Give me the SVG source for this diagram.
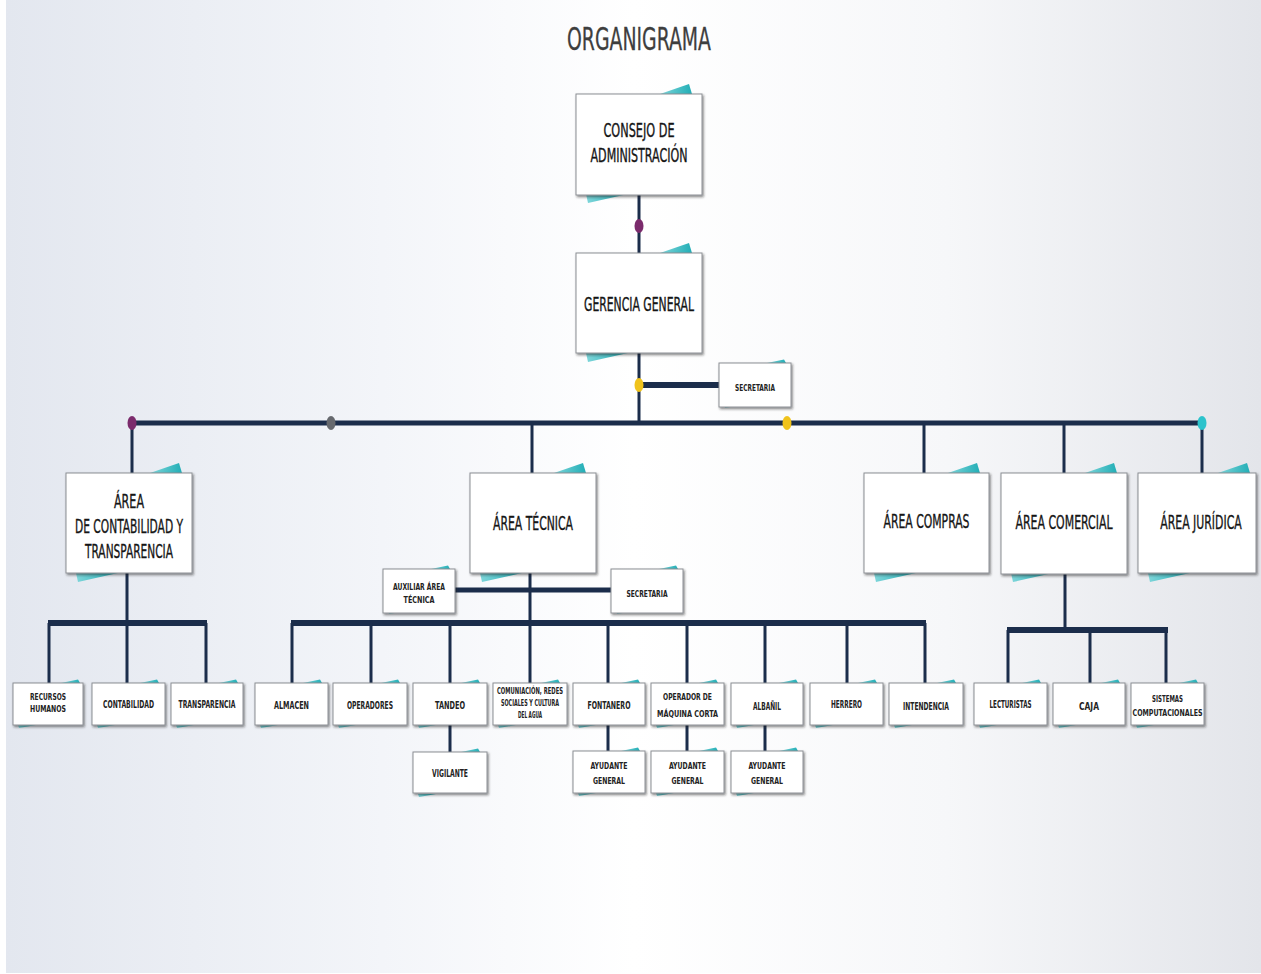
<svg xmlns="http://www.w3.org/2000/svg" xmlns:xlink="http://www.w3.org/1999/xlink" width="1261" height="974" viewBox="0 0 1261 974">
<defs>
<linearGradient id="bg" x1="0" y1="0" x2="1" y2="0">
<stop offset="0" stop-color="#e3e7ef"/>
<stop offset="0.3" stop-color="#f3f5f9"/>
<stop offset="0.5" stop-color="#ffffff"/>
<stop offset="0.75" stop-color="#f6f7f9"/>
<stop offset="1" stop-color="#e3e5ea"/>
</linearGradient>
<linearGradient id="teal" x1="0" y1="0" x2="1" y2="0">
<stop offset="0" stop-color="#7fd6da"/>
<stop offset="1" stop-color="#22aeb6"/>
</linearGradient>
<filter id="sh" x="-10%" y="-10%" width="125%" height="130%">
<feDropShadow dx="1.2" dy="1.6" stdDeviation="0.9" flood-color="#222" flood-opacity="0.55"/>
</filter>
<g id="decoB">
<polygon points="84,0 113,-10 116,0" fill="url(#teal)"/>
<polygon points="10,100 12,109 52,100" fill="url(#teal)"/>
</g>
<g id="decoS">
<polygon points="48,0 65,-3.5 67,0" fill="url(#teal)"/>
<polygon points="5,42 6,45 23,42" fill="url(#teal)"/>
</g>
<style>
.box{fill:#ffffff;stroke:#8c8f94;stroke-width:1;filter:url(#sh)}
.big{font-family:"DejaVu Sans Condensed","DejaVu Sans","Liberation Sans",sans-serif;font-stretch:condensed;font-size:19px;fill:#151515;stroke:#151515;stroke-width:0.35;text-anchor:middle}
.sm{font-family:"DejaVu Sans Condensed","DejaVu Sans","Liberation Sans",sans-serif;font-stretch:condensed;font-weight:bold;font-size:10px;fill:#222;text-anchor:middle}
.xs{font-family:"DejaVu Sans Condensed","DejaVu Sans","Liberation Sans",sans-serif;font-stretch:condensed;font-weight:bold;font-size:8.5px;fill:#222;text-anchor:middle}
.title{font-family:"DejaVu Sans Condensed","DejaVu Sans","Liberation Sans",sans-serif;font-stretch:condensed;font-size:32px;fill:#3e3e3e;stroke:#3e3e3e;stroke-width:0.3;text-anchor:middle}
.c{stroke:#1b2d4b;fill:none}
.th{stroke-width:3}
.tk{stroke-width:6}
.mn{stroke-width:5}
</style>
</defs>
<rect x="0" y="0" width="1261" height="974" fill="#ffffff"/>
<rect x="6" y="0" width="1255" height="973" fill="url(#bg)"/>
<text class="title" x="639" y="50" textLength="144" lengthAdjust="spacingAndGlyphs">ORGANIGRAMA</text>

<g id="connectors">
<line class="c th" x1="639" y1="195" x2="639" y2="253"/>
<line class="c th" x1="639" y1="353" x2="639" y2="423"/>
<line class="c tk" x1="639" y1="385" x2="719" y2="385"/>
<line class="c mn" x1="132" y1="423" x2="1202" y2="423"/>
<line class="c th" x1="132" y1="423" x2="132" y2="473"/>
<line class="c th" x1="532" y1="423" x2="532" y2="473"/>
<line class="c th" x1="924" y1="423" x2="924" y2="473"/>
<line class="c th" x1="1064" y1="423" x2="1064" y2="473"/>
<line class="c th" x1="1202" y1="423" x2="1202" y2="473"/>
<line class="c th" x1="127" y1="573" x2="127" y2="623"/>
<line class="c tk" x1="48" y1="623" x2="207" y2="623"/>
<line class="c th" x1="49" y1="623" x2="49" y2="683"/>
<line class="c th" x1="127" y1="623" x2="127" y2="683"/>
<line class="c th" x1="206" y1="623" x2="206" y2="683"/>
<line class="c th" x1="530" y1="573" x2="530" y2="683"/>
<line class="c mn" x1="455" y1="590" x2="611" y2="590"/>
<line class="c tk" x1="291" y1="623" x2="926" y2="623"/>
<line class="c th" x1="292" y1="623" x2="292" y2="683"/>
<line class="c th" x1="371" y1="623" x2="371" y2="683"/>
<line class="c th" x1="450" y1="623" x2="450" y2="683"/>
<line class="c th" x1="608" y1="623" x2="608" y2="683"/>
<line class="c th" x1="687" y1="623" x2="687" y2="683"/>
<line class="c th" x1="765" y1="623" x2="765" y2="683"/>
<line class="c th" x1="847" y1="623" x2="847" y2="683"/>
<line class="c th" x1="925" y1="623" x2="925" y2="683"/>
<line class="c th" x1="450" y1="725" x2="450" y2="752"/>
<line class="c th" x1="608" y1="725" x2="608" y2="751"/>
<line class="c th" x1="687" y1="725" x2="687" y2="751"/>
<line class="c th" x1="765" y1="725" x2="765" y2="751"/>
<line class="c th" x1="1065" y1="574" x2="1065" y2="630"/>
<line class="c tk" x1="1007" y1="630" x2="1168" y2="630"/>
<line class="c th" x1="1008" y1="630" x2="1008" y2="683"/>
<line class="c th" x1="1090" y1="630" x2="1090" y2="683"/>
<line class="c th" x1="1166" y1="630" x2="1166" y2="683"/>
<ellipse cx="639" cy="226" rx="4.5" ry="7" fill="#7b2b6c"/>
<ellipse cx="639" cy="385" rx="4.5" ry="7" fill="#f0c31c"/>
<ellipse cx="132" cy="423" rx="4.5" ry="7" fill="#7b2b6c"/>
<ellipse cx="331" cy="423" rx="4.5" ry="7" fill="#66696e"/>
<ellipse cx="787" cy="423" rx="4.5" ry="7" fill="#f0c31c"/>
<ellipse cx="1202" cy="423" rx="4.5" ry="7" fill="#2cc3cc"/>
</g>

<g id="consejo" transform="translate(576,94)"><use href="#decoB"/><rect class="box" width="126" height="101"/>
<text class="big" x="63" y="43" textLength="71" lengthAdjust="spacingAndGlyphs">CONSEJO DE</text>
<text class="big" x="63" y="68" textLength="97" lengthAdjust="spacingAndGlyphs">ADMINISTRACIÓN</text></g>

<g id="gerencia" transform="translate(576,253)"><use href="#decoB"/><rect class="box" width="126" height="100"/>
<text class="big" x="63" y="58" textLength="110" lengthAdjust="spacingAndGlyphs">GERENCIA GENERAL</text></g>

<g id="secretaria-gerencia" transform="translate(719,363)"><use href="#decoS"/><rect class="box" width="72" height="44"/>
<text class="xs" x="36" y="28" textLength="40" lengthAdjust="spacingAndGlyphs">SECRETARIA</text></g>

<g id="area-contabilidad" transform="translate(66,473)"><use href="#decoB"/><rect class="box" width="126" height="100"/>
<text class="big" x="63" y="35" textLength="30" lengthAdjust="spacingAndGlyphs">ÁREA</text>
<text class="big" x="63" y="60" textLength="108" lengthAdjust="spacingAndGlyphs">DE CONTABILIDAD Y</text>
<text class="big" x="63" y="85" textLength="88" lengthAdjust="spacingAndGlyphs">TRANSPARENCIA</text></g>

<g id="area-tecnica" transform="translate(470,473)"><use href="#decoB"/><rect class="box" width="126" height="100"/>
<text class="big" x="63" y="57" textLength="80" lengthAdjust="spacingAndGlyphs">ÁREA TÉCNICA</text></g>

<g id="area-compras" transform="translate(864,473)"><use href="#decoB"/><rect class="box" width="125" height="100"/>
<text class="big" x="62.5" y="55" textLength="86" lengthAdjust="spacingAndGlyphs">ÁREA COMPRAS</text></g>

<g id="area-comercial" transform="translate(1001,473)"><use href="#decoB"/><rect class="box" width="126" height="101"/>
<text class="big" x="63" y="56" textLength="97" lengthAdjust="spacingAndGlyphs">ÁREA COMERCIAL</text></g>

<g id="area-juridica" transform="translate(1138,473)">
<polygon points="80,0 109,-10 112,0" fill="url(#teal)"/>
<polygon points="10,100 12,109 52,100" fill="url(#teal)"/>
<rect class="box" width="118" height="100"/>
<g transform="translate(63,0) scale(0.8,1)">
<text class="big" x="0" y="56" textLength="102" lengthAdjust="spacingAndGlyphs">ÁREA JURÍDICA</text></g></g>

<g id="auxiliar" transform="translate(383,569)"><use href="#decoS"/><rect class="box" width="72" height="44"/>
<text class="xs" x="36" y="21" textLength="52" lengthAdjust="spacingAndGlyphs">AUXILIAR ÁREA</text>
<text class="xs" x="36" y="34" textLength="31" lengthAdjust="spacingAndGlyphs">TÉCNICA</text></g>

<g id="secretaria-tecnica" transform="translate(611,569)"><use href="#decoS"/><rect class="box" width="72" height="44"/>
<text class="xs" x="36" y="28" textLength="41" lengthAdjust="spacingAndGlyphs">SECRETARIA</text></g>

<g id="recursos-humanos" transform="translate(13,683)"><use href="#decoS"/><rect class="box" width="70" height="42"/>
<text class="xs" x="35" y="17" textLength="36" lengthAdjust="spacingAndGlyphs">RECURSOS</text>
<text class="xs" x="35" y="29" textLength="36" lengthAdjust="spacingAndGlyphs">HUMANOS</text></g>

<g id="contabilidad" transform="translate(92,683)"><use href="#decoS"/><rect class="box" width="73" height="42"/>
<text class="sm" x="36.5" y="25" textLength="51" lengthAdjust="spacingAndGlyphs">CONTABILIDAD</text></g>

<g id="transparencia" transform="translate(171,683)"><use href="#decoS"/><rect class="box" width="72" height="42"/>
<text class="sm" x="36" y="25" textLength="57" lengthAdjust="spacingAndGlyphs">TRANSPARENCIA</text></g>

<g id="almacen" transform="translate(255,683)"><use href="#decoS"/><rect class="box" width="73" height="42"/>
<text class="sm" x="36.5" y="26" textLength="35" lengthAdjust="spacingAndGlyphs">ALMACEN</text></g>

<g id="operadores" transform="translate(333,683)"><use href="#decoS"/><rect class="box" width="74" height="42"/>
<text class="sm" x="37" y="26" textLength="46" lengthAdjust="spacingAndGlyphs">OPERADORES</text></g>

<g id="tandeo" transform="translate(413,683)"><use href="#decoS"/><rect class="box" width="74" height="42"/>
<text class="sm" x="37" y="26" textLength="30" lengthAdjust="spacingAndGlyphs">TANDEO</text></g>

<g id="comunicacion" transform="translate(493,683)"><use href="#decoS"/><rect class="box" width="74" height="42"/>
<text class="xs" x="37" y="11" textLength="66" lengthAdjust="spacingAndGlyphs">COMUNIACIÓN, REDES</text>
<text class="xs" x="37" y="23" textLength="58" lengthAdjust="spacingAndGlyphs">SOCIALES Y CULTURA</text>
<text class="xs" x="37" y="35" textLength="24" lengthAdjust="spacingAndGlyphs">DEL AGUA</text></g>

<g id="fontanero" transform="translate(573,683)"><use href="#decoS"/><rect class="box" width="72" height="42"/>
<text class="sm" x="36" y="26" textLength="43" lengthAdjust="spacingAndGlyphs">FONTANERO</text></g>

<g id="operador-maquina" transform="translate(651,683)"><use href="#decoS"/><rect class="box" width="73" height="42"/>
<text class="xs" x="36.5" y="17" textLength="49" lengthAdjust="spacingAndGlyphs">OPERADOR DE</text>
<text class="xs" x="36.5" y="34" textLength="61" lengthAdjust="spacingAndGlyphs">MÁQUINA CORTA</text></g>

<g id="albanil" transform="translate(731,683)"><use href="#decoS"/><rect class="box" width="72" height="42"/>
<text class="sm" x="36" y="27" textLength="28" lengthAdjust="spacingAndGlyphs">ALBAÑIL</text></g>

<g id="herrero" transform="translate(810,683)"><use href="#decoS"/><rect class="box" width="73" height="42"/>
<text class="sm" x="36.5" y="25" textLength="31" lengthAdjust="spacingAndGlyphs">HERRERO</text></g>

<g id="intendencia" transform="translate(889,683)"><use href="#decoS"/><rect class="box" width="74" height="42"/>
<text class="sm" x="37" y="27" textLength="46" lengthAdjust="spacingAndGlyphs">INTENDENCIA</text></g>

<g id="lecturistas" transform="translate(974,683)"><use href="#decoS"/><rect class="box" width="73" height="42"/>
<text class="sm" x="36.5" y="25" textLength="42" lengthAdjust="spacingAndGlyphs">LECTURISTAS</text></g>

<g id="caja" transform="translate(1053,683)"><use href="#decoS"/><rect class="box" width="72" height="42"/>
<text class="sm" x="36" y="27" textLength="20" lengthAdjust="spacingAndGlyphs">CAJA</text></g>

<g id="sistemas" transform="translate(1131,683)"><use href="#decoS"/><rect class="box" width="73" height="42"/>
<text class="xs" x="36.5" y="19" textLength="31" lengthAdjust="spacingAndGlyphs">SISTEMAS</text>
<text class="xs" x="36.5" y="33" textLength="70" lengthAdjust="spacingAndGlyphs">COMPUTACIONALES</text></g>

<g id="vigilante" transform="translate(413,752)"><use href="#decoS"/><rect class="box" width="74" height="41"/>
<text class="sm" x="37" y="25" textLength="36" lengthAdjust="spacingAndGlyphs">VIGILANTE</text></g>

<g id="ayudante-1" transform="translate(573,751)"><use href="#decoS"/><rect class="box" width="72" height="42"/>
<text class="xs" x="36" y="18" textLength="37" lengthAdjust="spacingAndGlyphs">AYUDANTE</text>
<text class="xs" x="36" y="33" textLength="32" lengthAdjust="spacingAndGlyphs">GENERAL</text></g>

<g id="ayudante-2" transform="translate(651,751)"><use href="#decoS"/><rect class="box" width="73" height="42"/>
<text class="xs" x="36.5" y="18" textLength="37" lengthAdjust="spacingAndGlyphs">AYUDANTE</text>
<text class="xs" x="36.5" y="33" textLength="32" lengthAdjust="spacingAndGlyphs">GENERAL</text></g>

<g id="ayudante-3" transform="translate(731,751)"><use href="#decoS"/><rect class="box" width="72" height="42"/>
<text class="xs" x="36" y="18" textLength="37" lengthAdjust="spacingAndGlyphs">AYUDANTE</text>
<text class="xs" x="36" y="33" textLength="32" lengthAdjust="spacingAndGlyphs">GENERAL</text></g>
</svg>
